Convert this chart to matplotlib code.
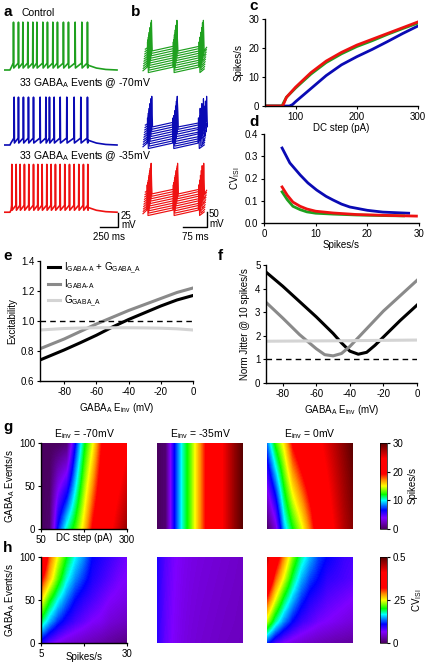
import numpy as np
import matplotlib.pyplot as plt
from matplotlib.colors import LinearSegmentedColormap

plt.rcParams['font.family'] = ['Liberation Sans', 'DejaVu Sans']
plt.rcParams['mathtext.fontset'] = 'custom'
plt.rcParams['mathtext.rm'] = 'Liberation Sans'
plt.rcParams['mathtext.it'] = 'Liberation Sans:italic'
plt.rcParams['axes.unicode_minus'] = False
plt.rcParams['font.size'] = 7
plt.rcParams['xtick.major.size'] = 2.5
plt.rcParams['ytick.major.size'] = 2.5
plt.rcParams['xtick.major.pad'] = 1.5
plt.rcParams['ytick.major.pad'] = 1.5
plt.rcParams['axes.linewidth'] = 1.0

GREEN = '#1fa01f'
BLUE = '#0a0ab4'
RED = '#ee1111'
GRAY = '#8a8a8a'
LGRAY = '#d4d4d4'

# ---------------- data ----------------
# panel a: spike times (ms) of the example traces
a_green_spikes = [130, 199, 260, 329, 399, 455, 538, 602, 677, 741, 824, 894, 987, 1080, 1158]
a_blue_spikes = [139, 199, 268, 338, 408, 500, 580, 630, 695, 779, 871, 973, 1066, 1158]
a_red_spikes = [107, 167, 222, 282, 343, 408, 468, 528, 593, 653, 713, 778, 843, 908, 973,
                1038, 1102, 1163]
step_on, step_off, trace_end = 83, 1165, 1571

# panel b: spike times (ms) of stacked sweeps
b_green_spikes = [[14, 94, 174], [15, 95, 176], [15, 96, 175], [16, 95, 177], [16, 97, 176],
                  [17, 96, 178], [17, 98, 177], [18, 97, 179], [18, 99, 178], [19, 98, 180]]
b_blue_spikes = [[14, 93, 172], [16, 95, 176], [15, 97, 179], [17, 96, 182], [16, 98, 174],
                 [18, 97, 185], [17, 99, 178], [19, 98, 188], [18, 100, 181], [20, 99, 190]]
b_red_spikes = [[13, 94, 173], [14, 95, 176], [15, 96, 174], [15, 96, 178], [16, 97, 175],
                [16, 98, 179], [17, 98, 176], [17, 99, 180], [18, 100, 177], [18, 100, 181]]

# panel c: f-I curves
c_dc_green = [50, 78, 80, 85, 100, 125, 150, 175, 200, 225, 250, 275, 300]
c_green = [0, 0, 1, 3, 6.2, 11, 15, 18, 20.5, 22.5, 24.7, 26.7, 28.6]
c_dc_red = [50, 78, 80, 85, 100, 125, 150, 175, 200, 225, 250, 275, 300]
c_red = [0, 0, 0.5, 3, 6.5, 11.5, 15.5, 18.5, 21, 23, 25, 27, 29]
c_dc_blue = [50, 90, 95, 100, 125, 150, 175, 200, 225, 250, 275, 300]
c_blue = [0, 0, 0.5, 1.5, 6, 10.5, 14.2, 17, 19.5, 22.2, 25, 27.6]

# panel d: CV_ISI vs rate
d_rate_blue = [3.5, 5, 7, 8.5, 10.2, 12, 13.4, 15, 16.6, 20, 23, 26, 28]
d_blue = [0.337, 0.27, 0.216, 0.18, 0.148, 0.12, 0.103, 0.085, 0.072, 0.057, 0.049, 0.046, 0.044]
d_rate_red = [3.5, 4.5, 5.6, 7, 8.3, 10, 13.4, 18, 24, 29.5]
d_red = [0.162, 0.125, 0.094, 0.075, 0.063, 0.053, 0.045, 0.038, 0.034, 0.031]
d_rate_green = [3.5, 4.5, 5.6, 7, 8.3, 10, 13.4, 18, 24, 27]
d_green = [0.14, 0.105, 0.075, 0.06, 0.05, 0.044, 0.04, 0.036, 0.033, 0.032]

# panel e: excitability vs E_inv
e_einv = [-95, -80, -70, -60, -50, -40, -30, -20, -10, 0]
e_both = [0.74, 0.807, 0.855, 0.905, 0.96, 1.01, 1.055, 1.10, 1.14, 1.17]
e_igaba = [0.815, 0.88, 0.93, 0.98, 1.025, 1.07, 1.11, 1.15, 1.19, 1.22]
e_ggaba = [0.94, 0.95, 0.953, 0.955, 0.955, 0.955, 0.954, 0.952, 0.948, 0.94]

# panel f: normalised jitter
f_einv_both = [-90, -80, -70, -60, -50, -45, -40, -35, -30, -25, -20, -10, 0]
f_both = [4.7, 4.1, 3.45, 2.8, 2.1, 1.7, 1.35, 1.22, 1.3, 1.6, 1.95, 2.65, 3.3]
f_einv_i = [-90, -80, -70, -60, -55, -50, -45, -40, -30, -20, -10, 0]
f_igaba = [3.42, 2.75, 2.05, 1.45, 1.2, 1.15, 1.25, 1.55, 2.3, 3.05, 3.7, 4.35]
f_einv_g = [-90, -45, 0]
f_ggaba = [1.77, 1.79, 1.82]

# panel g: spikes/s maps (rows: GABA events 0, 50, 100; cols: DC 50..300 step 25)
g_dc = [50, 75, 100, 125, 150, 175, 200, 225, 250, 275, 300]
g_events = [0, 50, 100]
g_m70 = [[0, 0.5, 7, 10.5, 12.8, 15.8, 19.5, 22, 24, 26, 28],
         [0, 0.2, 3.5, 5.5, 9.6, 13.6, 17.1, 20.5, 22.5, 24.2, 26],
         [0, 0, 0, 0.5, 6.5, 11.5, 14.8, 19, 21, 22.5, 24]]
g_m35 = [[0, 0.5, 6.5, 10.5, 13.5, 17, 20.5, 23, 25.5, 28, 30],
         [0, 0.5, 6.5, 10.5, 13.5, 17, 20.5, 23, 25.5, 28, 30]]
g_0 = [[0, 3, 9, 12, 14.5, 17.5, 21, 23, 25, 27, 28.5],
       [4, 7.7, 12.2, 15.7, 18, 20.2, 22.5, 24.2, 26, 27.7, 29.2],
       [8, 12.5, 15.5, 19.5, 21.5, 23, 24, 25.5, 27, 28.5, 30]]

# panel h: CV_ISI maps (rows: GABA events 0..100 step 25; cols: spikes/s 5..30 step 2.5)
h_rate = [5, 7.5, 10, 12.5, 15, 17.5, 20, 22.5, 25, 27.5, 30]
h_events = [0, 25, 50, 75, 100]
h_m70 = [[0.10, 0.075, 0.06, 0.05, 0.045, 0.04, 0.035, 0.03, 0.025, 0.02, 0.015],
         [0.19, 0.15, 0.12, 0.10, 0.085, 0.075, 0.065, 0.06, 0.05, 0.045, 0.04],
         [0.26, 0.205, 0.165, 0.135, 0.11, 0.095, 0.085, 0.075, 0.065, 0.06, 0.055],
         [0.33, 0.27, 0.215, 0.17, 0.14, 0.12, 0.10, 0.09, 0.08, 0.07, 0.065],
         [0.40, 0.30, 0.245, 0.20, 0.165, 0.14, 0.11, 0.10, 0.09, 0.08, 0.07]]
h_m35 = [[0.095, 0.075, 0.063, 0.055, 0.05, 0.047, 0.045, 0.043, 0.041, 0.04, 0.038],
         [0.10, 0.08, 0.068, 0.06, 0.055, 0.052, 0.05, 0.048, 0.046, 0.044, 0.042]]
h_0 = [[0.12, 0.085, 0.065, 0.055, 0.048, 0.042, 0.038, 0.034, 0.03, 0.028, 0.025],
       [0.24, 0.18, 0.14, 0.11, 0.09, 0.08, 0.07, 0.065, 0.06, 0.055, 0.05],
       [0.31, 0.245, 0.19, 0.15, 0.12, 0.10, 0.09, 0.08, 0.075, 0.07, 0.065],
       [0.38, 0.30, 0.245, 0.19, 0.15, 0.125, 0.11, 0.095, 0.09, 0.085, 0.08],
       [0.45, 0.35, 0.285, 0.225, 0.18, 0.15, 0.125, 0.11, 0.10, 0.09, 0.085]]
einv_titles = ['-70mV', '-35mV', '0mV']

cmap = LinearSegmentedColormap.from_list('spec', [
    (0.00, '#4a0060'), (0.07, '#6a00b8'), (0.13, '#7f00ff'), (0.22, '#0000ff'),
    (0.33, '#00ffff'), (0.40, '#00ff00'), (0.50, '#ffff00'), (0.57, '#ff9000'),
    (0.64, '#ff0000'), (0.82, '#ff0000'), (1.00, '#5a0000')])

# ---------------- figure ----------------
W, H = 430, 664
fig = plt.figure(figsize=(W / 100, H / 100), dpi=100)


def px_axes(l, t, r, b):
    return fig.add_axes([l / W, 1 - b / H, (r - l) / W, (b - t) / H])


def ftext(x, y, s, **kw):
    fig.text(x / W, 1 - y / H, s, **kw)


def clean(ax):
    ax.spines['top'].set_visible(False)
    ax.spines['right'].set_visible(False)


def trace_a(spikes):
    t = [0, step_on, step_on + 15]
    v = [0, 0, 4]
    for s in spikes:
        t += [s - 1, s + 2, s + 6]
        v += [12.5, 86, 3.6]
    t += [step_off - 5, step_off + 40, step_off + 120, step_off + 250, trace_end]
    v += [9, 7, 3.5, 1, 0]
    return np.array(t), np.array(v)


def trace_b(spikes):
    t = [0]
    v = [4]
    for s in spikes:
        t += [s - 1.5, s, s + 2.5]
        v += [16, 100, -2]
    t += [190]
    v += [10]
    return np.array(t), np.array(v)


# panel a
axa = px_axes(4, 15, 124, 240)
axa.set_xlim(0, 120 * 13.9)
axa.set_ylim(-225 * 1.8, 0)
axa.axis('off')
for spikes, col, base in [(a_green_spikes, GREEN, -99), (a_blue_spikes, BLUE, -234),
                          (a_red_spikes, RED, -355)]:
    t, v = trace_a(spikes)
    axa.plot(t, v + base, color=col, lw=1.2)
xb = 114 * 13.9
axa.plot([xb - 250, xb, xb], [-381.6, -381.6, -356.4], color='k', lw=1.0, clip_on=False)
ftext(121, 216, '25', fontsize=7, va='center')
ftext(121, 225, 'mV', fontsize=7, va='center')
ftext(109, 237, '250 ms', fontsize=7, ha='center', va='center')
ftext(21, 13, 'Control', fontsize=7.5, va='center')
ftext(19, 83, r'33 GABA$_{\rm A}$ Events @ -70mV', fontsize=7.5, va='center')
ftext(19, 156, r'33 GABA$_{\rm A}$ Events @ -35mV', fontsize=7.5, va='center')

# panel b
axb = px_axes(140, 8, 215, 240)
axb.set_xlim(0, 75 * 3.1)
axb.set_ylim(-232 * 3.33, 0)
axb.axis('off')
for sweeps, col, base in [(b_green_spikes, GREEN, -213), (b_blue_spikes, BLUE, -466),
                          (b_red_spikes, RED, -689)]:
    for k, spikes in enumerate(sweeps):
        t, v = trace_b(spikes)
        axb.plot(t + 9.3 + k * 0.8, v + base + k * 8, color=col, lw=0.85)
xb = (207 - 140) * 3.1
axb.plot([xb - 75, xb, xb], [-219 * 3.33, -219 * 3.33, -204 * 3.33], color='k', lw=1.0,
         clip_on=False)
ftext(209, 214, '50', fontsize=7, va='center')
ftext(209, 224, 'mV', fontsize=7, va='center')
ftext(195, 237, '75 ms', fontsize=7, ha='center', va='center')

# panel c
axc = px_axes(265, 19, 418, 106)
axc.plot(c_dc_blue, c_blue, color=BLUE, lw=2)
axc.plot(c_dc_green, c_green, color=GREEN, lw=2)
axc.plot(c_dc_red, c_red, color=RED, lw=2)
axc.set_xlim(50, 300)
axc.set_ylim(0, 30)
axc.set_xticks([100, 200, 300])
axc.set_yticks([0, 10, 20, 30])
axc.set_xlabel('DC step (pA)', labelpad=1)
axc.set_ylabel('Spikes/s', labelpad=4)
clean(axc)

# panel d
axd = px_axes(264, 134, 419, 223)
axd.plot(d_rate_blue, d_blue, color=BLUE, lw=2)
axd.plot(d_rate_green, d_green, color=GREEN, lw=2)
axd.plot(d_rate_red, d_red, color=RED, lw=2)
axd.set_xlim(0, 30)
axd.set_ylim(0, 0.4)
axd.set_xticks([0, 10, 20, 30])
axd.set_yticks([0, 0.1, 0.2, 0.3, 0.4])
axd.set_yticklabels(['0.0', '0.1', '0.2', '0.3', '0.4'])
axd.set_xlabel('Spikes/s', labelpad=1)
axd.set_ylabel(r'CV$_{\rm ISI}$', labelpad=2)
clean(axd)

# panel e
axe = px_axes(40, 261, 193, 381)
axe.plot(e_einv, e_both, color='k', lw=2.2, label=r'I$_{\rm GABA\text{-}A}$ + G$_{\rm GABA\_A}$')
axe.plot(e_einv, e_igaba, color=GRAY, lw=2.2, label=r'I$_{\rm GABA\text{-}A}$')
axe.plot(e_einv, e_ggaba, color=LGRAY, lw=2.2, label=r'G$_{\rm GABA\_A}$')
axe.axhline(1.0, color='k', lw=1.0, ls=(0, (4, 3)))
axe.set_xlim(-95, 0)
axe.set_ylim(0.6, 1.4)
axe.set_xticks([-80, -60, -40, -20, 0])
axe.set_yticks([0.6, 0.8, 1.0, 1.2, 1.4])
axe.set_xlabel(r'GABA$_{\rm A}$ E$_{\rm inv}$ (mV)', labelpad=3)
axe.set_ylabel('Excitability', labelpad=3)
axe.legend(loc='upper left', bbox_to_anchor=(0.03, 1.04), frameon=False, fontsize=7,
           handlelength=1.2, handletextpad=0.4, labelspacing=0.15, borderaxespad=0)
clean(axe)

# panel f
axf = px_axes(266, 265, 417, 383)
axf.plot(f_einv_both, f_both, color='k', lw=2.2)
axf.plot(f_einv_i, f_igaba, color=GRAY, lw=2.2)
axf.plot(f_einv_g, f_ggaba, color=LGRAY, lw=2.2)
axf.axhline(1.0, color='k', lw=1.0, ls=(0, (4, 3)))
axf.set_xlim(-90, 0)
axf.set_ylim(0, 5)
axf.set_xticks([-80, -60, -40, -20, 0])
axf.set_yticks([0, 1, 2, 3, 4, 5])
axf.set_xlabel(r'GABA$_{\rm A}$ E$_{\rm inv}$ (mV)', labelpad=3)
axf.set_ylabel('Norm Jitter @ 10 spikes/s', labelpad=4)
clean(axf)

# panels g and h
lefts = [41, 157, 267]
g_maps = [g_m70, g_m35, g_0]
h_maps = [h_m70, h_m35, h_0]
for i in range(3):
    # g
    ax = px_axes(lefts[i], 443, lefts[i] + 86, 529)
    z = np.array(g_maps[i])
    ev = g_events if z.shape[0] == 3 else [0, 100]
    dy = ev[1] - ev[0]
    im_g = ax.imshow(z, origin='lower', aspect='auto', cmap=cmap, vmin=0, vmax=30,
                     interpolation='bilinear', interpolation_stage='data',
                     extent=[g_dc[0] - 12.5, g_dc[-1] + 12.5, ev[0] - dy / 2, ev[-1] + dy / 2])
    ax.set_xlim(50, 300)
    ax.set_ylim(0, 100)
    ax.set_title(r'E$_{\rm inv}$ = ' + einv_titles[i], fontsize=7.5, pad=4)
    if i == 0:
        clean(ax)
        ax.set_xticks([50, 175, 300])
        ax.set_xticklabels(['50', '', '300'])
        ax.set_yticks([0, 50, 100])
        ax.set_xlabel('DC step (pA)', labelpad=-8)
        ax.set_ylabel(r'GABA$_{\rm A}$ Events/s', labelpad=2)
    else:
        ax.axis('off')
    # h
    ax = px_axes(lefts[i], 557, lefts[i] + 86, 643)
    z = np.array(h_maps[i])
    ev = h_events if z.shape[0] == 5 else [0, 100]
    dy = ev[1] - ev[0]
    im_h = ax.imshow(z, origin='lower', aspect='auto', cmap=cmap, vmin=0, vmax=0.5,
                     interpolation='bilinear', interpolation_stage='data',
                     extent=[h_rate[0] - 1.25, h_rate[-1] + 1.25, ev[0] - dy / 2, ev[-1] + dy / 2])
    ax.set_xlim(5, 30)
    ax.set_ylim(0, 100)
    if i == 0:
        clean(ax)
        ax.set_xticks([5, 17.5, 30])
        ax.set_xticklabels(['5', '', '30'])
        ax.set_yticks([0, 50, 100])
        ax.set_xlabel('Spikes/s', labelpad=-5)
        ax.set_ylabel(r'GABA$_{\rm A}$ Events/s', labelpad=2)
    else:
        ax.axis('off')

cax = px_axes(380, 443, 387, 529)
cb = fig.colorbar(im_g, cax=cax)
cb.set_ticks([0, 10, 20, 30])
cb.outline.set_linewidth(0.5)
cb.set_label('Spikes/s', labelpad=3)

cax = px_axes(380, 557, 387, 643)
cb = fig.colorbar(im_h, cax=cax)
cb.set_ticks([0, 0.25, 0.5])
cb.set_ticklabels(['0', '.25', '0.5'])
cb.outline.set_linewidth(0.5)
cb.set_label(r'CV$_{\rm ISI}$', labelpad=3)

for x, y, s in [(3, 12, 'a'), (131, 12, 'b'), (249, 6, 'c'), (249, 122, 'd'),
                (3, 256, 'e'), (218, 256, 'f'), (3, 427, 'g'), (3, 548, 'h')]:
    ftext(x, y, s, fontsize=11, fontweight='bold', va='center')

fig.savefig('out.png', dpi=100)
